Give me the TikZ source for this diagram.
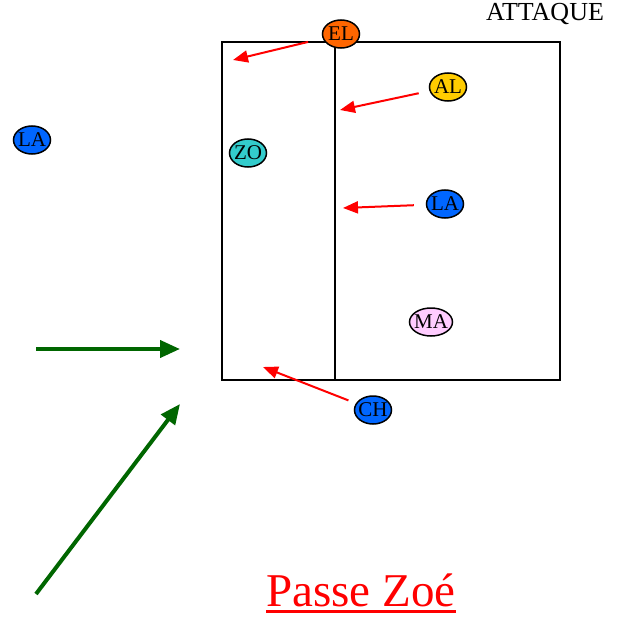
\documentclass[tikz,border=0pt]{standalone}
\usepackage{fontspec}
\setmainfont{Liberation Serif}
\usepackage{tikz}
\usetikzlibrary{positioning, arrows.meta, shapes.geometric}

\definecolor{pl_blue}{RGB}{0,102,255}
\definecolor{pl_orange}{RGB}{255,102,0}
\definecolor{pl_yellow}{RGB}{255,204,0}
\definecolor{pl_teal}{RGB}{51,204,204}
\definecolor{pl_pink}{RGB}{255,204,255}
\definecolor{pl_green}{RGB}{0,102,0}

\begin{document}
\begin{tikzpicture}[
    x=1pt, y=-1pt,
    player_style/.style={ellipse, draw=black, line width=1.5pt, inner xsep=-4pt, inner ysep=-3pt,
        minimum width=37pt, minimum height=28pt, font=\fontsize{21}{21}\selectfont},
    move_style/.style={red, line width=2pt, -{Triangle[length=15pt, width=12pt]}},
    run_style/.style={pl_green, line width=4pt, -{Triangle[length=20pt, width=17pt]}}
]
    \useasboundingbox (0,0) rectangle (627,621);

    % Field
    \draw[line width=2pt] (222,42) rectangle (560,380);
    \draw[line width=2pt] (335,42) -- (335,380);

    % Coordinates
    \coordinate (el_to) at (233,60);
    \coordinate (al_to) at (340,110);
    \coordinate (la_to) at (343,208);
    \coordinate (ch_to) at (263,367);
    \coordinate (g1_from) at (36,349);
    \coordinate (g1_to) at (180,349);
    \coordinate (g2_from) at (36,594);
    \coordinate (g2_to) at (180,404);

    % Players
    \node[player_style, fill=pl_orange] (el) at (341,34) {EL};
    \node[player_style, fill=pl_yellow] (al) at (448,87) {AL};
    \node[player_style, fill=pl_blue] (la_out) at (32,140) {LA};
    \node[player_style, fill=pl_teal] (zo) at (248,153) {ZO};
    \node[player_style, fill=pl_blue] (la_in) at (445,204) {LA};
    \node[player_style, fill=pl_pink, minimum width=43pt] (ma) at (431,322) {MA};
    \node[player_style, fill=pl_blue] (ch) at (373,410) {CH};

    % Moves
    \draw[move_style, shorten <=15pt] (el) -- (el_to);
    \draw[move_style, shorten <=11pt] (al) -- (al_to);
    \draw[move_style, shorten <=12pt] (la_in) -- (la_to);
    \draw[move_style, shorten <=8pt] (ch) -- (ch_to);
    \draw[run_style] (g1_from) -- (g1_to);
    \draw[run_style] (g2_from) -- (g2_to);

    % Labels
    \node[font=\fontsize{26}{26}\selectfont] (attaque) at (545,14) {ATTAQUE};
    \node[red, font=\fontsize{47}{47}\selectfont, inner sep=0pt] (title) at (361,590) {Passe Zoé};
    \draw[red, line width=3pt] ([yshift=-5pt]title.base west) -- ([yshift=-5pt]title.base east);
\end{tikzpicture}
\end{document}
